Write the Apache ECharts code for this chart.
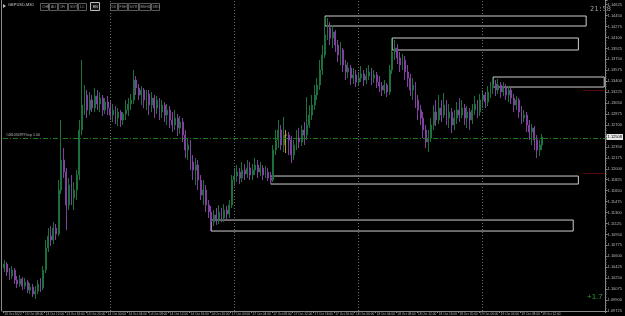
<!DOCTYPE html>
<html><head><meta charset="utf-8">
<script src="https://cdn.jsdelivr.net/npm/echarts@6/dist/echarts.min.js"></script>
<style>html,body{margin:0;padding:0;background:#000;}#c{width:625px;height:316px;}</style>
</head><body><div id="c"></div><script>
const symbolTitle = 'GBPUSD,M30';
const opens = [1.10412,1.10476,1.10348,1.10284,1.10380,1.10220,1.10156,1.10236,1.10124,1.10188,
1.10060,1.10108,1.09996,1.10044,1.10156,1.10092,1.10380,1.10732,1.10924,1.10860,
1.11052,1.10956,1.11660,1.12140,1.11948,1.11420,1.11740,1.11532,1.11660,1.11900,
1.12620,1.13020,1.13180,1.12940,1.13100,1.12972,1.13164,1.13036,1.13132,1.12940,
1.13068,1.12972,1.12860,1.12940,1.12812,1.12908,1.12780,1.12876,1.12940,1.13036,
1.13100,1.13420,1.13292,1.13180,1.13260,1.13100,1.13196,1.13020,1.13132,1.12972,
1.13100,1.12908,1.13020,1.12860,1.12940,1.12780,1.12700,1.12812,1.12652,1.12748,
1.12540,1.12300,1.12380,1.12108,1.11980,1.12060,1.11820,1.11580,1.11660,1.11420,
1.11308,1.11148,1.11260,1.11180,1.11308,1.11212,1.11340,1.11276,1.11420,1.11820,
1.11884,1.11948,1.11852,1.11980,1.11916,1.12012,1.11900,1.11980,1.12060,1.11948,
1.12012,1.11900,1.11948,1.11852,1.11820,1.12300,1.12460,1.12620,1.12380,1.12540,
1.12540,1.12460,1.12220,1.12380,1.12492,1.12428,1.12620,1.12540,1.12700,1.12860,
1.13020,1.13180,1.13340,1.13580,1.13820,1.14140,1.14252,1.14092,1.14188,1.13980,
1.13820,1.13900,1.13660,1.13548,1.13612,1.13452,1.13500,1.13388,1.13452,1.13516,
1.13420,1.13484,1.13548,1.13452,1.13500,1.13388,1.13324,1.13260,1.13340,1.13228,
1.13580,1.13868,1.13932,1.13772,1.13660,1.13740,1.13548,1.13452,1.13260,1.13340,
1.13100,1.12940,1.12812,1.12620,1.12428,1.12492,1.12700,1.12908,1.12780,1.12972,
1.12860,1.13020,1.12812,1.12908,1.12700,1.12812,1.12940,1.12860,1.12972,1.12812,
1.12908,1.12780,1.12940,1.13036,1.12908,1.13100,1.13180,1.13068,1.13228,1.13292,
1.13356,1.13260,1.13340,1.13228,1.13292,1.13180,1.13260,1.13132,1.13020,1.13100,
1.12908,1.12812,1.12860,1.12700,1.12588,1.12652,1.12460,1.12300,1.12380];
const closes = [1.10476,1.10348,1.10284,1.10380,1.10220,1.10156,1.10236,1.10124,1.10188,1.10060,
1.10108,1.09996,1.10044,1.10156,1.10092,1.10380,1.10732,1.10924,1.10860,1.11052,
1.10956,1.11660,1.12140,1.11948,1.11420,1.11740,1.11532,1.11660,1.11900,1.12620,
1.13020,1.13180,1.12940,1.13100,1.12972,1.13164,1.13036,1.13132,1.12940,1.13068,
1.12972,1.12860,1.12940,1.12812,1.12908,1.12780,1.12876,1.12940,1.13036,1.13100,
1.13420,1.13292,1.13180,1.13260,1.13100,1.13196,1.13020,1.13132,1.12972,1.13100,
1.12908,1.13020,1.12860,1.12940,1.12780,1.12700,1.12812,1.12652,1.12748,1.12540,
1.12300,1.12380,1.12108,1.11980,1.12060,1.11820,1.11580,1.11660,1.11420,1.11308,
1.11148,1.11260,1.11180,1.11308,1.11212,1.11340,1.11276,1.11420,1.11820,1.11884,
1.11948,1.11852,1.11980,1.11916,1.12012,1.11900,1.11980,1.12060,1.11948,1.12012,
1.11900,1.11948,1.11852,1.11820,1.12300,1.12460,1.12620,1.12380,1.12540,1.12540,
1.12460,1.12220,1.12380,1.12492,1.12428,1.12620,1.12540,1.12700,1.12860,1.13020,
1.13180,1.13340,1.13580,1.13820,1.14140,1.14252,1.14092,1.14188,1.13980,1.13820,
1.13900,1.13660,1.13548,1.13612,1.13452,1.13500,1.13388,1.13452,1.13516,1.13420,
1.13484,1.13548,1.13452,1.13500,1.13388,1.13324,1.13260,1.13340,1.13228,1.13580,
1.13868,1.13932,1.13772,1.13660,1.13740,1.13548,1.13452,1.13260,1.13340,1.13100,
1.12940,1.12812,1.12620,1.12428,1.12492,1.12700,1.12908,1.12780,1.12972,1.12860,
1.13020,1.12812,1.12908,1.12700,1.12812,1.12940,1.12860,1.12972,1.12812,1.12908,
1.12780,1.12940,1.13036,1.12908,1.13100,1.13180,1.13068,1.13228,1.13292,1.13356,
1.13260,1.13340,1.13228,1.13292,1.13180,1.13260,1.13132,1.13020,1.13100,1.12908,
1.12812,1.12860,1.12700,1.12588,1.12652,1.12460,1.12300,1.12380,1.12508];
const lows = [1.10348,1.10284,1.10220,1.10236,1.10156,1.10092,1.10108,1.10060,1.10076,1.10012,
1.09996,1.09948,1.09916,1.09996,1.10028,1.10060,1.10332,1.10668,1.10764,1.10796,
1.10860,1.10924,1.11596,1.11852,1.11020,1.11340,1.11420,1.11340,1.11500,1.11820,
1.12540,1.12860,1.12812,1.12860,1.12908,1.12908,1.12940,1.12908,1.12844,1.12876,
1.12860,1.12780,1.12748,1.12716,1.12684,1.12668,1.12700,1.12780,1.12844,1.12940,
1.13036,1.13180,1.13100,1.13020,1.12972,1.12940,1.12860,1.12908,1.12812,1.12876,
1.12780,1.12812,1.12748,1.12700,1.12652,1.12588,1.12620,1.12524,1.12556,1.12428,
1.12172,1.12140,1.11980,1.11820,1.11740,1.11660,1.11500,1.11420,1.11308,1.11212,
1.11004,1.11084,1.11100,1.11116,1.11148,1.11148,1.11180,1.11212,1.11372,1.11724,
1.11788,1.11756,1.11788,1.11820,1.11852,1.11820,1.11820,1.11900,1.11852,1.11884,
1.11820,1.11852,1.11804,1.11756,1.11788,1.12220,1.12332,1.12300,1.12268,1.12252,
1.12220,1.12092,1.12140,1.12300,1.12332,1.12364,1.12380,1.12460,1.12652,1.12780,
1.12940,1.13100,1.13260,1.13500,1.13772,1.14060,1.13980,1.13932,1.13868,1.13708,
1.13660,1.13548,1.13420,1.13452,1.13340,1.13356,1.13308,1.13324,1.13388,1.13324,
1.13356,1.13420,1.13340,1.13372,1.13292,1.13228,1.13164,1.13196,1.13148,1.13180,
1.13516,1.13740,1.13676,1.13548,1.13580,1.13420,1.13308,1.13164,1.13100,1.12972,
1.12780,1.12700,1.12492,1.12332,1.12268,1.12428,1.12620,1.12684,1.12716,1.12748,
1.12812,1.12700,1.12652,1.12572,1.12620,1.12716,1.12748,1.12812,1.12700,1.12652,
1.12620,1.12716,1.12860,1.12812,1.12844,1.12972,1.12972,1.13004,1.13132,1.13196,
1.13164,1.13196,1.13132,1.13164,1.13100,1.13068,1.13036,1.12908,1.12940,1.12812,
1.12716,1.12748,1.12588,1.12460,1.12380,1.12300,1.12172,1.12204,1.12300];
const highs = [1.10540,1.10508,1.10412,1.10444,1.10412,1.10284,1.10300,1.10268,1.10252,1.10220,
1.10172,1.10156,1.10124,1.10220,1.10252,1.10444,1.10860,1.11052,1.11084,1.11148,
1.11116,1.11820,1.12780,1.12332,1.12012,1.11852,1.11900,1.11788,1.11980,1.12780,
1.13740,1.13340,1.13260,1.13228,1.13180,1.13292,1.13260,1.13228,1.13180,1.13132,
1.13164,1.13100,1.13036,1.13004,1.12972,1.12940,1.12908,1.13100,1.13132,1.13196,
1.13580,1.13484,1.13356,1.13324,1.13292,1.13260,1.13260,1.13228,1.13180,1.13164,
1.13132,1.13100,1.13068,1.13036,1.13004,1.12908,1.12940,1.12876,1.12844,1.12812,
1.12620,1.12492,1.12460,1.12220,1.12172,1.12140,1.11900,1.11820,1.11740,1.11500,
1.11404,1.11340,1.11372,1.11420,1.11372,1.11436,1.11404,1.11500,1.11900,1.12012,
1.12060,1.12012,1.12108,1.12076,1.12140,1.12108,1.12076,1.12172,1.12140,1.12108,
1.12060,1.12044,1.12012,1.11948,1.12380,1.12620,1.12780,1.12700,1.12828,1.12620,
1.12588,1.12524,1.12460,1.12620,1.12652,1.12700,1.12748,1.13148,1.13020,1.13180,
1.13340,1.13452,1.13740,1.13980,1.14444,1.14412,1.14348,1.14300,1.14220,1.14060,
1.14028,1.13932,1.13740,1.13708,1.13660,1.13612,1.13580,1.13548,1.13644,1.13580,
1.13612,1.13660,1.13612,1.13580,1.13548,1.13484,1.13388,1.13420,1.13372,1.13660,
1.14092,1.14060,1.13996,1.13868,1.13836,1.13804,1.13660,1.13516,1.13452,1.13388,
1.13180,1.13020,1.12908,1.12700,1.12620,1.12812,1.13020,1.13100,1.13180,1.13100,
1.13212,1.13100,1.13036,1.12972,1.12940,1.13068,1.13132,1.13100,1.13036,1.13004,
1.12972,1.13036,1.13164,1.13100,1.13196,1.13260,1.13228,1.13324,1.13388,1.13468,
1.13420,1.13436,1.13388,1.13388,1.13356,1.13324,1.13292,1.13196,1.13164,1.13132,
1.13004,1.12940,1.12908,1.12780,1.12716,1.12684,1.12540,1.12460,1.12556];
const timeLabels = ['13 Oct 2022','13 Oct 08:00','13 Oct 12:00','13 Oct 16:00','13 Oct 20:00',
'14 Oct 00:00','14 Oct 04:00','14 Oct 08:00','14 Oct 12:00','14 Oct 16:00','14 Oct 20:00',
'17 Oct 00:00','17 Oct 04:00','17 Oct 08:00','17 Oct 12:00','17 Oct 16:00','17 Oct 20:00',
'18 Oct 00:00','18 Oct 04:00','18 Oct 08:00','18 Oct 12:00','18 Oct 16:00','18 Oct 20:00',
'19 Oct 00:00','19 Oct 04:00','19 Oct 08:00','19 Oct 12:00'];
const labelEvery = 8;
const totalBars = 233;
const dayStarts = [41, 89, 137, 185];
const zoneFrom = [124, 150, 189, 103, 80];
const zoneTo = [225, 222, 232, 222, 220];
const zoneTop = [1.14444, 1.14092, 1.13468, 1.11884, 1.11180];
const zoneBottom = [1.14284, 1.13900, 1.13308, 1.11756, 1.11004];
const orderPrice = 1.12492;
const orderText = '#461030979 buy 1.00';
const bidPrice = 1.12508;
const stopLevels = [1.13260, 1.11932];
const stopFrom = 224, stopTo = 232;
const buttonsLeft = ['CHE','AU','1Ft','SGT','LC'];
const buttonActive = 'EN';
const buttonsRight = ['5S','FSH','SiYR','BSHIL','SRG'];
const timerText = '21:58';
const profitText = '+1.7';

const cats = Array.from({length: totalBars}, (_, i) => String(i));
const candles = opens.map((o, i) => [o, closes[i], lows[i], highs[i]]);
const FONT = 'Liberation Sans';

const chart = echarts.init(document.getElementById('c'), null, {renderer: 'canvas'});

const graphics = [];
graphics.push({type:'polygon', shape:{points:[[3,4],[3,8],[6,6]]}, style:{fill:'#bbb'}});
graphics.push({type:'text', left:8, top:3, style:{text:symbolTitle, fill:'#c8c8c8', font:'4px '+FONT}});
let bx = 40;
const btnW = [8,8,9,9,8];
buttonsLeft.forEach((t, i) => {
  graphics.push({type:'rect', shape:{x:bx+0.5, y:3.5, width:btnW[i], height:7}, style:{fill:'#000', stroke:'#5a5a5a', lineWidth:1}});
  graphics.push({type:'text', x:bx+2, y:5, style:{text:t, fill:'#9a9a9a', font:'3.5px '+FONT}});
  bx += btnW[i] + 1;
});
graphics.push({type:'rect', shape:{x:90.5, y:2.5, width:9, height:8}, style:{fill:'#111', stroke:'#bdbdbd', lineWidth:1}});
graphics.push({type:'text', x:93, y:5, style:{text:buttonActive, fill:'#e0e0e0', font:'3.5px '+FONT}});
let bx2 = 110;
const btnW2 = [7,9,10,11,8];
buttonsRight.forEach((t, i) => {
  graphics.push({type:'rect', shape:{x:bx2+0.5, y:3.5, width:btnW2[i], height:7}, style:{fill:'#000', stroke:'#5a5a5a', lineWidth:1}});
  graphics.push({type:'text', x:bx2+1.5, y:5, style:{text:t, fill:'#9a9a9a', font:'3.5px '+FONT}});
  bx2 += btnW2[i] + 1;
});
graphics.push({type:'text', right:14, top:6, style:{text:timerText, fill:'#9a9a9a', font:'7px "DejaVu Sans Mono"'}});
graphics.push({type:'text', left:587, top:293, style:{text:profitText, fill:'#2a9a3a', font:'8px '+FONT}});

const option = {
  backgroundColor: '#000',
  animation: false,
  grid: {left: 3, right: 16, top: 0, bottom: 5, containLabel: false},
  xAxis: {
    type: 'category', data: cats, boundaryGap: true,
    axisLine: {show: true, lineStyle: {color: '#8a8a8a', width: 1}},
    axisTick: {show: true, interval: (i) => i % labelEvery === 0 && i / labelEvery < timeLabels.length, length: 2, lineStyle: {color: '#8a8a8a'}},
    axisLabel: {
      interval: (i) => i % labelEvery === 0 && i / labelEvery < timeLabels.length,
      formatter: (v, i) => timeLabels[i / labelEvery] || '',
      color: '#b8b8b8', fontSize: 3.2, fontFamily: FONT, align: 'left', margin: 1.5
    },
    splitLine: {show: false}
  },
  yAxis: [{
    type: 'value', position: 'right', scale: true,
    min: 1.09725, max: 1.1470, interval: 0.00175,
    axisLine: {show: true, lineStyle: {color: '#8a8a8a', width: 1}},
    axisTick: {show: true, length: 2, lineStyle: {color: '#8a8a8a'}},
    minorTick: {show: true, splitNumber: 4, length: 1, lineStyle: {color: '#6a6a6a'}},
    axisLabel: {color: '#b8b8b8', fontSize: 4, fontFamily: FONT, margin: 2, showMaxLabel: false,
      formatter: (v) => v.toFixed(5)},
    splitLine: {show: false}
  }, {
    type: 'value', position: 'left', offset: 2, min: 1.09725, max: 1.1470,
    axisLine: {show: true, lineStyle: {color: '#8a8a8a', width: 1}},
    axisTick: {show: false}, axisLabel: {show: false}, splitLine: {show: false}
  }],
  graphic: graphics,
  series: [{
    type: 'candlestick',
    data: candles,
    clip: false,
    barWidth: 1.4,
    itemStyle: {
      color: '#1b703d', color0: '#80409f',
      borderColor: '#1b703d', borderColor0: '#80409f', borderColorDoji: '#c9941c', borderWidth: 1
    },
    markArea: {
      silent: true,
      itemStyle: {color: 'rgba(0,0,0,0)', borderColor: '#cfcfcf', borderWidth: 1},
      data: zoneFrom.map((f, i) => [{coord: [f, zoneTop[i]]}, {coord: [zoneTo[i], zoneBottom[i]]}])
    },
    markLine: {
      silent: true, symbol: ['none', 'none'], animation: false, precision: 5,
      data: [
        ...dayStarts.map(d => ({xAxis: d, lineStyle: {color: '#6c6c6c', type: [1, 2], width: 1}, label: {show: false}})),
        {yAxis: orderPrice, lineStyle: {color: '#1c7a1c', type: [5, 2, 1, 2], width: 1},
          label: {show: true, position: 'insideStartTop', formatter: orderText, color: '#b8b8b8', fontSize: 3.5, fontFamily: FONT, distance: [3, 1]}},
        {yAxis: bidPrice, lineStyle: {width: 1, color: 'rgba(0,0,0,0)', type: 'solid'},
          label: {show: true, position: 'end', formatter: bidPrice.toFixed(5), color: '#000', backgroundColor: '#e8e8e8', fontSize: 4, fontFamily: FONT, padding: [1, 1], distance: 1}},
        ...stopLevels.map(p => [{coord: [stopFrom, p], lineStyle: {color: '#b01010', type: [1, 1], width: 1}, label: {show: false}}, {coord: [stopTo, p]}])
      ]
    }
  }]
};
chart.setOption(option);
</script></body></html>
